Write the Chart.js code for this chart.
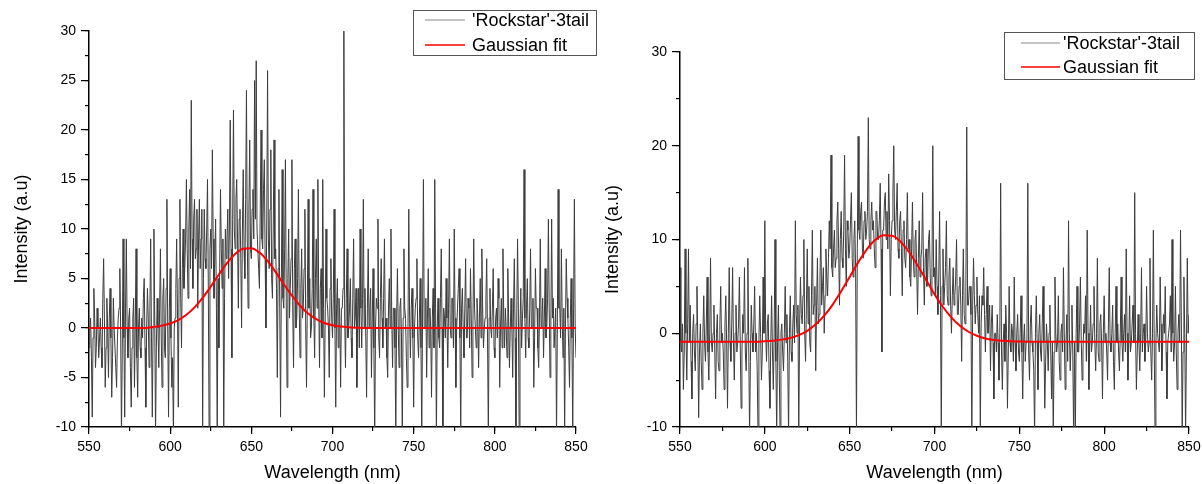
<!DOCTYPE html>
<html>
<head>
<meta charset="utf-8">
<script src="https://cdn.jsdelivr.net/npm/chart.js@4.4.1/dist/chart.umd.min.js"></script>
<style>
  html, body { margin: 0; padding: 0; background: #fff; }
  #wrap { position: relative; width: 1202px; height: 484px; }
  canvas { position: absolute; top: 0; }
</style>
</head>
<body>
<div id="wrap">
  <canvas id="leftChart" width="600" height="484" style="left:0"></canvas>
  <canvas id="rightChart" width="602" height="484" style="left:600px"></canvas>
</div>
<script>
// spectra are sampled every 0.5 nm starting at 550 nm
const specStart = 550;
const specStep = 0.5;
const fitStep = 5;

const seriesLabels = ["'Rockstar'-3tail", "Gaussian fit"];
const xRange = [550, 850];
const yRange = [-10, 30];

// left panel, measured intensity (a.u), one row per 10 nm
const leftSignal = [
  -2, 0, 1, -3, -9, -1, 4, 1, -4, -2, 2, 0, -3, -1, 1, -2, -4, 3, 7, 1,
  -6, -2, 3, 0, -5, 1, 4, -1, -7, -3, 3, 0, 0, -4, -6, -1, 1, 2, 6, 0,
  -11, -2, 9, -1, -9, 2, 9, 0, -3, 1, 2, -4, -8, -2, 1, 3, -6, 0, 8, -3,
  -7, 0, 2, -2, -3, 1, -1, 3, 5, -2, -8, 0, 4, 1, -4, 2, 9, -1, -9, 0,
  10, 1, -11, -2, 3, 0, -4, 2, 8, -1, -6, 3, 5, -2, -3, 4, 13, 0, -9, 2,
  6, -1, -6, -3, -11, 0, 1, 4, 9, 2, -8, 5, 13, 3, -2, 6, 10, 4, 6, 9,
  15, 8, 3, 10, 14, 6, 23, 9, 4, 11, 13, 7, 8, 12, 2, 9, 13, 6, 9, 12,
  -11, 5, 12, 7, 6, 10, 15, 4, -11, 8, 10, 6, 18, 9, 3, 7, 11, 2, -11, 5,
  -2, 6, 14, 8, 4, 9, -11, 3, 10, 7, 9, 12, 5, 10, 21, 8, -3, 11, 22, 10,
  8, 13, 15, 9, 2, 11, 12, 7, 0, 10, 16, 8, 5, 13, 24, 9, 2, 12, 19, 8,
  7, 12, 14, 9, 25, 11, 27, 10, 10, 6, 4, 12, 20, 9, 8, 14, 17, 7, 0, 11,
  26, 9, 6, 12, 18, 5, 3, 10, 19, 7, 8, 4, -5, 6, 14, 2, -9, 5, 16, 3,
  2, 8, 17, 3, -6, 5, 10, 1, 4, 7, 17, 2, -4, 6, 9, 0, 1, 5, 14, 2,
  -3, 4, 8, 1, 2, 6, 12, 0, -6, 3, 13, 2, 5, -1, 0, 4, 14, 1, -3, 5,
  9, 2, 15, 3, -4, 4, 6, -1, 15, 2, -7, 1, 10, 3, 2, 0, -5, 4, 7, 1,
  -1, 3, 12, 0, -8, 2, 5, -2, 3, 1, -6, 2, 2, 4, 30, 1, -4, 3, 8, -1,
  0, 2, 5, -1, -3, 3, 9, 0, 1, 4, -6, 1, 4, -2, 10, 2, -2, 3, 13, 0,
  4, -1, -7, 2, 8, 0, 2, 4, -5, 1, 6, -2, -11, 0, 3, 2, 11, -1, -3, 3,
  7, 1, -2, 3, 9, 0, 1, -3, -5, 2, 5, 0, 10, 1, -4, 2, 2, -2, -11, 1,
  6, 0, -4, 2, 3, -1, -11, 1, 8, 2, 1, -3, -6, 0, 12, 1, -3, 2, 4, -1,
  -8, 0, 2, 3, 7, -1, -3, 1, 5, -2, -11, 2, 15, 0, 0, 3, -5, 1, 6, -2,
  2, 0, -7, 1, 4, -2, 15, 2, -11, 0, 3, -1, -2, 3, 8, 0, -11, 2, 1, -1,
  5, 1, -4, 2, 9, 0, -1, 3, 3, -2, 10, 1, -6, 0, 2, 4, 6, -1, -11, 2,
  4, 0, -3, 2, 7, -1, -1, 3, 2, -2, 6, 1, -5, 0, 9, 2, 0, -2, 3, 1,
  -4, 1, 5, -1, 8, 2, -2, 0, 1, 3, 7, -1, -11, 1, 4, 0, -1, 2, 6, -2,
  -3, 1, 2, -1, 5, 3, -6, 0, 3, -2, 8, 1, -2, 2, 0, -3, 6, 1, -4, 0,
  3, 0, -5, 2, 7, -1, -11, 1, 9, 2, -11, 0, 4, -2, 1, 3, 16, 1, -3, 2,
  5, -1, -2, 2, 8, 0, 0, 3, -6, -1, 6, 2, 2, -2, -4, 1, 9, 0, 1, 3,
  -3, 1, 6, -1, 0, 3, 11, 2, -5, 0, 11, 1, 3, -2, -2, 2, -11, 0, 14, 2,
  2, -1, 8, 1, -3, 2, -11, 0, 7, 3, 1, -2, -6, 1, 5, -1, -11, 2, 13, 0,
  -3
];

// left panel, gaussian fit, 550..850 nm every 5 nm
const leftFit = [
  0, 0, 0, 0, 0, 0, 0, 0,
  0.12, 0.24, 0.45, 0.80, 1.33, 2.08, 3.04, 4.18, 5.40, 6.56,
  7.48, 8.01, 8.06, 7.62, 6.77, 5.64, 4.42, 3.26, 2.25, 1.46,
  0.89, 0.51, 0.28, 0.14, 0.07, 0.03,
  0, 0, 0, 0, 0, 0, 0, 0, 0, 0, 0, 0, 0, 0,
  0, 0, 0, 0, 0, 0, 0, 0, 0, 0, 0, 0, 0
];

// right panel, measured intensity (a.u), one row per 10 nm
const rightSignal = [
  7, -1, -2, 1, -6, -2, 9, 0, -5, 1, 9, -1, 3, -3, -7, 0, 2, -2, -4, 1,
  5, -1, -9, -2, 1, -3, -6, 0, 4, -1, -3, 1, 6, -2, -5, 0, 8, -1, -2, 0,
  3, -2, -7, 0, 2, -3, -4, 1, 5, -1, 0, -2, -6, 1, 4, -1, -8, 0, 7, -1,
  -3, 1, 7, -1, -5, 0, 3, -2, -1, 1, 6, -1, -8, -2, 2, 0, 7, -2, -4, 0,
  8, -1, -11, -3, 3, 0, -2, 1, 5, -2, 0, -4, -11, -1, 4, 0, -5, -2, 6, 0,
  12, 0, -3, 1, 2, -4, -8, -1, 4, -2, -6, 0, 10, -3, -11, -1, 3, -4, -11, 0,
  1, -2, -4, 0, 5, -1, 2, -3, -11, 0, 4, -2, -3, 1, 3, -1, 12, 2, 0, 3,
  -11, 1, 6, 2, 1, 4, 10, 0, -3, 3, 9, 1, 5, -1, -2, 4, 11, 2, 3, 5,
  -4, 3, 8, 1, 2, 6, 11, 3, 5, 7, 0, 4, 9, 6, 4, 8, 12, 9, 19, 7,
  6, 9, 11, 7, 8, 12, 14, 9, 3, 10, 13, 8, 7, 11, 19, 9, 5, 12, 11, 8,
  9, 12, 15, 8, 6, 10, 12, 7, -11, 9, 21, 11, 10, 13, 14, 9, 8, 12, 13, 10,
  11, 13, 23, 10, 9, 12, 14, 11, 12, 9, 7, 13, 13, 10, 10, 12, 16, 9, -2, 11,
  11, 14, 15, 10, 13, 9, 17, 12, 4, 10, 12, 15, 20, 11, 10, 13, 16, 9, 8, 12,
  13, 9, 4, 11, 12, 8, 7, 10, 15, 9, 10, 6, 5, 9, 14, 8, 6, 10, 11, 7,
  2, 8, 12, 6, 8, 9, 15, 7, 3, 8, 9, 5, 6, 10, 11, 6, 4, 7, 20, 6,
  7, 4, 10, 5, 2, 6, 13, 4, -11, 5, 9, 3, 5, 7, 12, 4, 3, 6, 8, 3,
  0, 4, 7, 3, 4, 6, 10, 2, 2, 5, 6, 3, -3, 4, 9, 2, 1, 5, 22, 3,
  3, 5, 5, 2, -11, 3, 8, 4, 1, 3, 6, 2, 0, 4, -11, 1, 4, 3, 7, 2,
  -2, 2, 5, 0, 1, 3, -4, 1, 3, -1, -7, 0, 0, -2, 2, -1, -5, 0, 16, -2,
  -6, -1, 1, -3, 3, 0, -8, -2, 5, -1, -2, 1, 0, -3, 6, -1, -4, 0, 2, -2,
  -3, 0, 4, -2, -7, -1, 1, -3, -1, 0, 16, -2, -5, 1, 3, -1, -2, -4, -11, 0,
  4, -1, -6, 0, 2, -2, -3, 1, 5, -1, -8, -3, 1, -1, -4, 0, 3, -2, -7, -1,
  -11, -2, 6, 0, -2, -1, 4, -3, -5, 0, 1, -2, 7, 0, -6, -1, 2, -3, 12, 0,
  -4, -1, 3, -2, -11, -1, -11, 0, 5, -2, -2, 1, 6, -1, -5, -2, 1, 0, 4, -3,
  11, 0, -6, -1, 3, -2, -1, 1, 5, -1, -4, 0, 8, -2, -3, 1, 2, -1, -7, 0,
  4, -1, 0, -2, -5, 1, 7, -1, -2, 0, 3, -3, -6, 0, 5, -1, 1, -2, -4, 0,
  6, -1, -3, 0, 2, -2, 9, 0, -5, -1, 4, -2, -1, 1, 3, -1, 15, 0, -6, -2,
  2, -1, -4, 0, 7, -2, 0, 1, -3, -1, 5, 0, -2, -1, 8, -2, -5, 0, 11, -1,
  -11, -1, 3, 0, -1, -2, 6, 1, -4, -1, 2, 0, 5, -2, -7, -1, 0, 1, 4, -2,
  10, 0, -3, -1, 5, -2, -6, 0, 2, -1, 11, 1, -11, -2, 6, 0, -11, -1, 8, 0,
  2
];

// right panel, gaussian fit, 550..850 nm every 5 nm
const rightFit = [
  -0.9, -0.9, -0.9, -0.9, -0.9, -0.9, -0.9, -0.9, -0.9, -0.9,
  -0.85, -0.79, -0.68, -0.50, -0.20, 0.26, 0.95, 1.87, 3.06, 4.47,
  6.01, 7.56, 8.93, 9.94, 10.45, 10.40, 9.77, 8.67, 7.26, 5.70,
  4.17, 2.80, 1.67, 0.79, 0.16, -0.27, -0.55, -0.71, -0.80, -0.85,
  -0.88,
  -0.9, -0.9, -0.9, -0.9, -0.9, -0.9, -0.9, -0.9, -0.9, -0.9,
  -0.9, -0.9, -0.9, -0.9, -0.9, -0.9, -0.9, -0.9, -0.9, -0.9
];

Chart.defaults.font.family = "'Liberation Sans', Arial, sans-serif";
Chart.defaults.color = "#000";

const toPoints = (values, step) =>
  values.map((v, i) => ({ x: specStart + i * step, y: v }));

// boxed legend like the Origin one, drawn at a fixed spot
const boxLegend = {
  id: "boxLegend",
  afterDraw(chart, args, opts) {
    const ctx = chart.ctx;
    ctx.save();
    ctx.strokeStyle = "#555";
    ctx.lineWidth = 1;
    ctx.strokeRect(opts.x + 0.5, opts.y + 0.5, opts.w, opts.h);
    ctx.font = "18px 'Liberation Sans', Arial, sans-serif";
    ctx.textBaseline = "middle";
    ctx.fillStyle = "#000";
    chart.data.datasets.forEach((ds, i) => {
      const y = opts.rows[i];
      ctx.strokeStyle = ds.legendColor;
      ctx.lineWidth = ds.legendWidth;
      ctx.beginPath();
      ctx.moveTo(opts.lineX1, y);
      ctx.lineTo(opts.lineX2, y);
      ctx.stroke();
      ctx.fillText(ds.label, opts.textX, y + 1);
    });
    ctx.restore();
  },
};

function makeChart(id, signal, fit, cfg) {
  const ctx = document.getElementById(id).getContext("2d");
  return new Chart(ctx, {
    type: "line",
    data: {
      datasets: [
        {
          label: seriesLabels[0],
          data: toPoints(signal, specStep),
          borderColor: "#3c3c3c",
          borderWidth: 1,
          pointRadius: 0,
          tension: 0,
          order: 1,
          legendColor: "#888",
          legendWidth: 1,
        },
        {
          label: seriesLabels[1],
          data: toPoints(fit, fitStep),
          borderColor: "#ff0000",
          borderWidth: 2,
          pointRadius: 0,
          cubicInterpolationMode: "monotone",
          order: 0,
          legendColor: "#ff0000",
          legendWidth: 1.5,
        },
      ],
    },
    options: {
      responsive: false,
      animation: false,
      devicePixelRatio: 1,
      layout: { padding: cfg.padding },
      plugins: {
        legend: { display: false },
        tooltip: { enabled: false },
        boxLegend: cfg.legend,
      },
      scales: {
        x: {
          type: "linear",
          position: "bottom",
          weight: 1,
          min: xRange[0],
          max: xRange[1],
          ticks: { stepSize: 50, padding: 5, font: { size: 14 }, maxRotation: 0, autoSkip: false },
          grid: { drawOnChartArea: false, tickLength: 7, color: "#000", lineWidth: 1.2 },
          border: { color: "#000", width: 1.5 },
          title: { display: true, text: "Wavelength (nm)", font: { size: 18 }, padding: { top: 0, bottom: 0 } },
          // fixed height, and no extra side room for the end labels
          afterFit: (s) => { s.height = 57; s.paddingLeft = 0; s.paddingRight = 0; },
        },
        xMinor: {
          type: "linear",
          position: "bottom",
          weight: 0,
          min: xRange[0],
          max: xRange[1],
          ticks: { stepSize: 25, display: false },
          grid: { drawOnChartArea: false, tickLength: 4, color: "#000", lineWidth: 1.2 },
          border: { display: false },
          afterFit: (s) => { s.height = 0; s.paddingLeft = 0; s.paddingRight = 0; },
        },
        y: {
          type: "linear",
          position: "left",
          weight: 1,
          min: yRange[0],
          max: yRange[1],
          ticks: { stepSize: cfg.yMajor, padding: 5, font: { size: 14 } },
          grid: { drawOnChartArea: false, tickLength: 8, color: "#000", lineWidth: 1.2 },
          border: { color: "#000", width: 1.5 },
          title: { display: true, text: "Intensity (a.u)", font: { size: 18 }, padding: { top: cfg.yTitlePad, bottom: 0 } },
          afterFit: (s) => { s.width = cfg.yWidth; },
        },
        yMinor: {
          type: "linear",
          position: "left",
          weight: 0,
          min: yRange[0],
          max: yRange[1],
          ticks: { stepSize: cfg.yMinor, display: false },
          grid: { drawOnChartArea: false, tickLength: 4, color: "#000", lineWidth: 1.2 },
          border: { display: false },
          afterFit: (s) => { s.width = 0; },
        },
      },
    },
    plugins: [boxLegend],
  });
}

makeChart("leftChart", leftSignal, leftFit, {
  padding: { left: 0, right: 24, top: 31, bottom: 0 },
  yWidth: 89,
  yMajor: 5,
  yMinor: 2.5,
  yTitlePad: 11,
  legend: { x: 413, y: 10, w: 183, h: 45, lineX1: 425, lineX2: 465, textX: 472, rows: [20, 45] },
});

makeChart("rightChart", rightSignal, rightFit, {
  padding: { left: 0, right: 13, top: 52, bottom: 0 },
  yWidth: 80,
  yMajor: 10,
  yMinor: 5,
  yTitlePad: 2,
  legend: { x: 404, y: 32, w: 190, h: 47, lineX1: 421, lineX2: 460, textX: 463, rows: [43, 67] },
});
</script>
</body>
</html>
